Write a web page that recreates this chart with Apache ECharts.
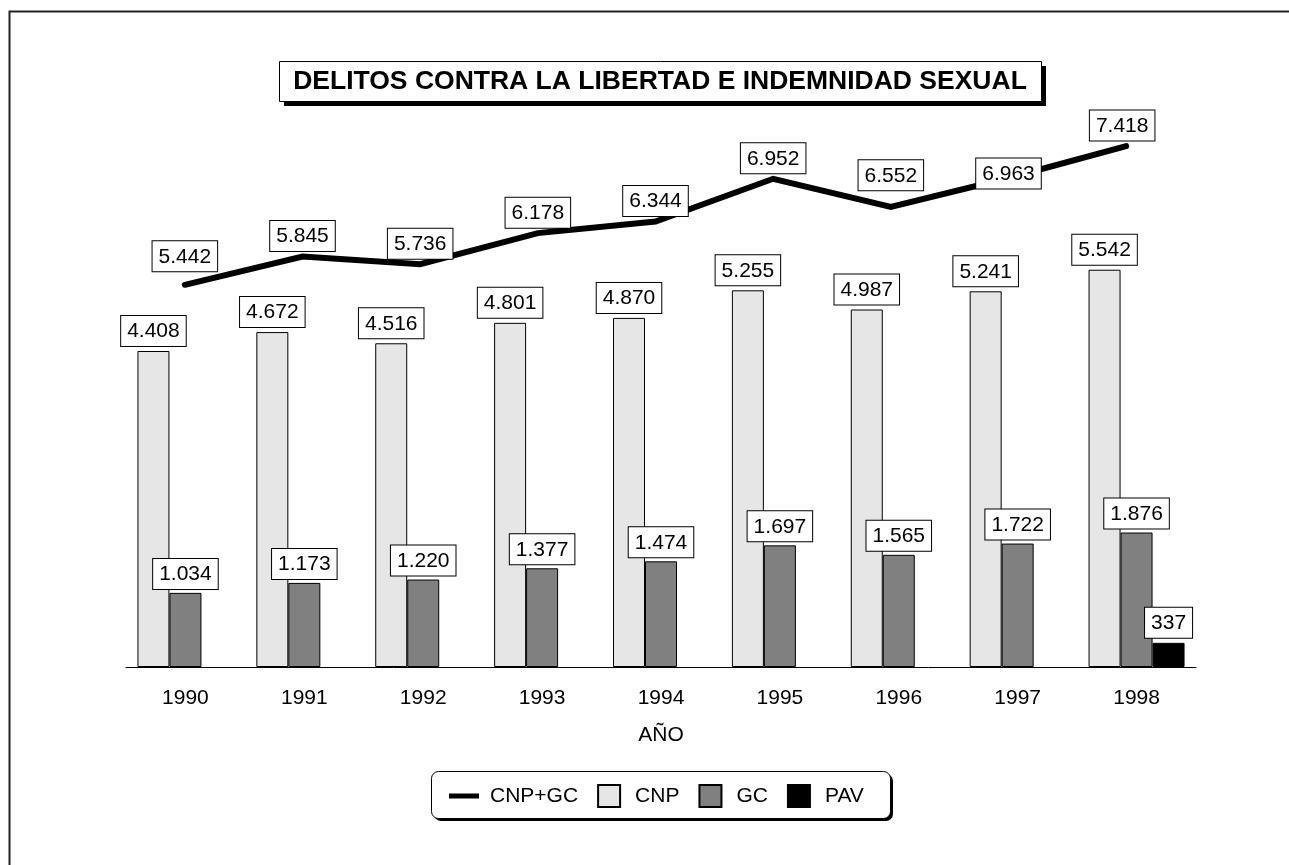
<!DOCTYPE html>
<html>
<head>
<meta charset="utf-8">
<title>Delitos contra la libertad e indemnidad sexual</title>
<script src="https://cdn.jsdelivr.net/npm/echarts@6/dist/echarts.min.js"></script>
<style>
  html, body { margin: 0; padding: 0; background: #fff; }
  #chart { width: 1289px; height: 865px; }
</style>
</head>
<body>
<div id="chart"></div>
<script>
// datos
var years = ['1990', '1991', '1992', '1993', '1994', '1995', '1996', '1997', '1998'];
var cnpGc = [5442, 5845, 5736, 6178, 6344, 6952, 6552, 6963, 7418];
var cnp = [4408, 4672, 4516, 4801, 4870, 5255, 4987, 5241, 5542];
var gc = [1034, 1173, 1220, 1377, 1474, 1697, 1565, 1722, 1876];
var pav = [null, null, null, null, null, null, null, null, 337];
var titulo = 'DELITOS CONTRA LA LIBERTAD E INDEMNIDAD SEXUAL';

// pequeños ajustes de posicion de etiquetas de la linea
var lineLabelNudge = { 0: [0, -8], 6: [0, -11], 7: [0, 16], 8: [-4, 0] };

var FONT = 'Liberation Sans';
var SQUARE = 'path://M0,0h22v22h-22z';

function miles(v) {
  return String(v).replace(/\B(?=(\d{3})+(?!\d))/g, '.');
}

var boxLabel = {
  show: true,
  position: 'top',
  fontFamily: FONT,
  fontSize: 21,
  color: '#000',
  backgroundColor: '#fff',
  borderColor: '#000',
  borderWidth: 1,
  padding: [5, 6, 4, 6],
  formatter: function (p) { return miles(p.value); }
};

var chart = echarts.init(document.getElementById('chart'));

var lineData = cnpGc.map(function (v, i) {
  var item = { value: v };
  if (lineLabelNudge[i]) item.label = { offset: lineLabelNudge[i] };
  return item;
});

chart.setOption({
  animation: false,
  backgroundColor: '#fff',
  textStyle: { fontFamily: FONT },
  legend: {
    left: 449,
    top: 784,
    padding: 0,
    itemWidth: 30,
    itemHeight: 22,
    itemGap: 19,
    textStyle: { fontFamily: FONT, fontSize: 21, color: '#000', padding: [0, 0, 0, 6] },
    data: [
      { name: 'CNP+GC', icon: 'path://M0,0h30v5h-30z' },
      { name: 'CNP', icon: SQUARE },
      { name: 'GC', icon: SQUARE },
      { name: 'PAV', icon: SQUARE }
    ]
  },
  graphic: [
    // marco exterior
    { type: 'rect', left: 7, top: 9, shape: { width: 1400, height: 1000 },
      style: { fill: 'none', stroke: '#222', lineWidth: 2 }, silent: true, z: -10 },
    // caja del titulo con sombra
    { type: 'rect', x: 284, y: 66, shape: { width: 762, height: 40 },
      style: { fill: '#000' }, silent: true, z: -5 },
    { type: 'rect', x: 279.5, y: 61.5, shape: { width: 762, height: 40 },
      style: { fill: '#fff', stroke: '#000', lineWidth: 1 }, silent: true, z: -4 },
    { type: 'text', x: 660, y: 82, silent: true, z: -3,
      style: { text: titulo, fill: '#000', font: 'bold 26.5px "Liberation Sans"',
        textAlign: 'center', textVerticalAlign: 'middle' } },
    // caja de la leyenda con sombra
    { type: 'rect', x: 434, y: 774, shape: { width: 459, height: 47, r: 7 },
      style: { fill: '#000' }, silent: true, z: -5 },
    { type: 'rect', x: 431.5, y: 771.5, shape: { width: 459, height: 47, r: 7 },
      style: { fill: '#fff', stroke: '#000', lineWidth: 1 }, silent: true, z: -4 }
  ],
  grid: [
    { left: 126, right: 93, top: 107, bottom: 198 },
    { left: 126, right: 104, top: 107, bottom: 198 }
  ],
  xAxis: [{
    type: 'category',
    gridIndex: 0,
    data: years,
    name: 'AÑO',
    nameLocation: 'middle',
    nameGap: 58,
    nameTextStyle: { fontFamily: FONT, fontSize: 21, color: '#000' },
    axisLine: { lineStyle: { color: '#000', width: 1 } },
    axisTick: { alignWithLabel: true, length: 14, lineStyle: { color: '#000' } },
    axisLabel: { fontFamily: FONT, fontSize: 21, color: '#000', margin: 21 }
  }, {
    type: 'category',
    gridIndex: 1,
    data: years,
    show: false
  }],
  yAxis: [
    { type: 'value', gridIndex: 0, min: 0, max: 7812, show: false, splitLine: { show: false } },
    { type: 'value', gridIndex: 1, min: 0, max: 7974, show: false, splitLine: { show: false } }
  ],
  series: [{
    name: 'CNP+GC',
    type: 'line',
    xAxisIndex: 1,
    yAxisIndex: 1,
    data: lineData,
    symbol: 'circle',
    symbolSize: 1,
    showSymbol: true,
    z: 3,
    lineStyle: { color: '#000', width: 6, cap: 'round', join: 'miter' },
    itemStyle: { color: '#000' },
    label: Object.assign({}, boxLabel, { distance: 5 })
  }, {
    name: 'CNP',
    type: 'bar',
    data: cnp,
    barWidth: 32,
    barGap: '0%',
    itemStyle: { color: '#e6e6e6', borderColor: '#000', borderWidth: 1 },
    label: Object.assign({}, boxLabel, { distance: 5 })
  }, {
    name: 'GC',
    type: 'bar',
    data: gc,
    barWidth: 32,
    barGap: '0%',
    itemStyle: { color: '#808080', borderColor: '#000', borderWidth: 1 },
    label: Object.assign({}, boxLabel, { distance: 4 })
  }, {
    name: 'PAV',
    type: 'bar',
    data: pav,
    barWidth: 32,
    barGap: '0%',
    itemStyle: { color: '#000', borderColor: '#000', borderWidth: 1 },
    label: Object.assign({}, boxLabel, { distance: 5 })
  }]
});
</script>
</body>
</html>
